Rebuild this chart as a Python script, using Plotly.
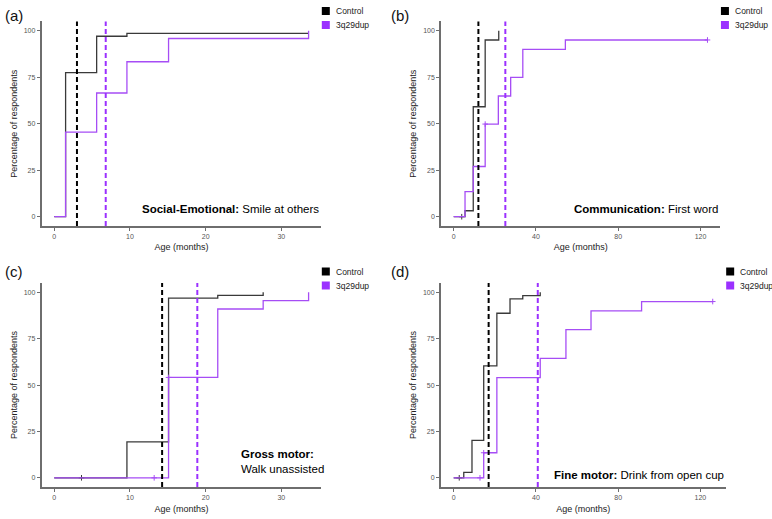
import plotly.graph_objects as go

# ---------------- data ----------------
groups = ["Control", "3q29dup"]

# (a) Social-Emotional: Smile at others
a_ctrl_x = [0, 1.5, 5.6, 9.6, 33.6]
a_ctrl_y = [0, 77.5, 97.0, 98.5, 98.5]
a_dup_x = [0, 1.5, 5.6, 9.6, 15.1, 33.6]
a_dup_y = [0, 45.5, 66.5, 83.3, 95.8, 100]
a_ctrl_cens_x, a_ctrl_cens_y = [], []
a_dup_cens_x, a_dup_cens_y = [], []
a_medians = [3.0, 6.8]

# (b) Communication: First word
b_ctrl_x = [0, 5.5, 9.5, 15.3, 21.9]
b_ctrl_y = [0, 3.2, 59.1, 95.0, 100]
b_dup_x = [0, 5.5, 9.5, 15.3, 21.7, 27.7, 33.6, 54.3, 123.4]
b_dup_y = [0, 13.5, 27.0, 49.8, 64.9, 74.9, 90.0, 95.0, 95.0]
b_ctrl_cens_x, b_ctrl_cens_y = [3.9], [0]
b_dup_cens_x, b_dup_cens_y = [15.3, 123.4], [49.8, 95.0]
b_medians = [12.0, 25.1]

# (c) Gross motor: Walk unassisted
c_ctrl_x = [0, 9.6, 15.1, 21.6, 27.6]
c_ctrl_y = [0, 19.4, 96.8, 98.3, 100]
c_dup_x = [0, 15.1, 21.6, 27.6, 33.6]
c_dup_y = [0, 54.1, 91.0, 95.5, 100]
c_ctrl_cens_x, c_ctrl_cens_y = [3.6], [0]
c_dup_cens_x, c_dup_cens_y = [13.2, 15.1], [0, 54.1]
c_medians = [14.25, 18.9]

# (d) Fine motor: Drink from open cup
d_ctrl_x = [0, 4.9, 8.9, 14.6, 21.0, 27.4, 33.6, 42.1]
d_ctrl_y = [0, 2.9, 20.2, 60.3, 88.7, 96.4, 98.2, 100]
d_dup_x = [0, 14.6, 21.0, 42.1, 54.6, 66.8, 91.4, 126.0]
d_dup_y = [0, 13.5, 54.0, 64.4, 79.9, 90.0, 95.0, 95.0]
d_ctrl_cens_x, d_ctrl_cens_y = [2.7], [0]
d_dup_cens_x, d_dup_cens_y = [12.8, 14.6, 126.0], [0, 13.5, 95.0]
d_medians = [17.0, 40.9]

panel_letters = ["(a)", "(b)", "(c)", "(d)"]
titles_bold = ["Social-Emotional:", "Communication:", "Gross motor:", "Fine motor:"]
titles_rest = ["Smile at others", "First word", "Walk unassisted", "Drink from open cup"]
x_ticks_short = [0, 10, 20, 30]
x_ticks_long = [0, 40, 80, 120]
y_ticks = [0, 25, 50, 75, 100]

# ---------------- style ----------------
FONT = "Liberation Sans, Arial, Helvetica, sans-serif"
LINE_COL = {"Control": "#3a3a3a", "3q29dup": "#a64df5"}
DASH_COL = {"Control": "#000000", "3q29dup": "#9b30ff"}
KEY_COL = {"Control": "#000000", "3q29dup": "#9b30ff"}
AX_COL = "#6e6e6e"

panels = [
    dict(ctrl=(a_ctrl_x, a_ctrl_y), dup=(a_dup_x, a_dup_y),
         cc=(a_ctrl_cens_x, a_ctrl_cens_y), dc=(a_dup_cens_x, a_dup_cens_y),
         med=a_medians, xr=[-1.68, 35.28], ticks=x_ticks_short,
         dx=[0.0538, 0.4162], dy=[0.5645, 0.9588]),
    dict(ctrl=(b_ctrl_x, b_ctrl_y), dup=(b_dup_x, b_dup_y),
         cc=(b_ctrl_cens_x, b_ctrl_cens_y), dc=(b_dup_cens_x, b_dup_cens_y),
         med=b_medians, xr=[-6.2, 129.7], ticks=x_ticks_long,
         dx=[0.5712, 0.9332], dy=[0.5645, 0.9588]),
    dict(ctrl=(c_ctrl_x, c_ctrl_y), dup=(c_dup_x, c_dup_y),
         cc=(c_ctrl_cens_x, c_ctrl_cens_y), dc=(c_dup_cens_x, c_dup_cens_y),
         med=c_medians, xr=[-1.68, 35.28], ticks=x_ticks_short,
         dx=[0.0538, 0.4162], dy=[0.0615, 0.4547]),
    dict(ctrl=(d_ctrl_x, d_ctrl_y), dup=(d_dup_x, d_dup_y),
         cc=(d_ctrl_cens_x, d_ctrl_cens_y), dc=(d_dup_cens_x, d_dup_cens_y),
         med=d_medians, xr=[-6.3, 132.3], ticks=x_ticks_long,
         dx=[0.5709, 0.9400], dy=[0.0615, 0.4547]),
]

W, H = 772, 519
fig = go.Figure()
shapes = []
annotations = []

for i, p in enumerate(panels):
    n = "" if i == 0 else str(i + 1)
    xa, ya = "x" + n, "y" + n
    # step curves (control first, dup on top)
    for g, (xs, ys), (cx, cy) in [("Control", p["ctrl"], p["cc"]), ("3q29dup", p["dup"], p["dc"])]:
        fig.add_trace(go.Scatter(x=xs, y=ys, mode="lines", line=dict(shape="hv", color=LINE_COL[g], width=1.3),
                                 showlegend=False, xaxis=xa, yaxis=ya, hoverinfo="skip"))
        if cx:
            fig.add_trace(go.Scatter(x=cx, y=cy, mode="markers",
                                     marker=dict(symbol="cross-thin", size=4, line=dict(color=LINE_COL[g], width=1)),
                                     showlegend=False, xaxis=xa, yaxis=ya, hoverinfo="skip"))
    # median dashed lines
    for g, m in zip(groups, p["med"]):
        shapes.append(dict(type="line", xref=xa, yref=ya + " domain", x0=m, x1=m, y0=0, y1=1,
                           line=dict(color=DASH_COL[g], width=2, dash="5px,3px")))
    lay = dict(domain=p["dx"], range=p["xr"], tickvals=p["ticks"], showline=True, linecolor=AX_COL, linewidth=1.5,
               ticks="outside", ticklen=3, tickcolor=AX_COL, tickwidth=1, showgrid=False, zeroline=False,
               tickfont=dict(size=7, color="#555555", family=FONT),
               title=dict(text="Age (months)", font=dict(size=9, color="#222", family=FONT), standoff=5),
               anchor=ya, fixedrange=True)
    fig.update_layout(**{"xaxis" + n: lay})
    lay_y = dict(domain=p["dy"], range=[-5, 105], tickvals=y_ticks, showline=True, linecolor=AX_COL, linewidth=1.5,
                 ticks="outside", ticklen=3, tickcolor=AX_COL, tickwidth=1, showgrid=False, zeroline=False,
                 tickfont=dict(size=7, color="#555555", family=FONT),
                 title=dict(text="Percentage of respondents", font=dict(size=9, color="#222", family=FONT), standoff=5),
                 anchor=xa, fixedrange=True)
    fig.update_layout(**{"yaxis" + n: lay_y})

    # panel letter
    left_px = 3 if i % 2 == 0 else 389
    top_px = 15 if i < 2 else 271
    annotations.append(dict(text=panel_letters[i], xref="paper", yref="paper", x=left_px / W, y=1 - top_px / H,
                            xanchor="left", yanchor="middle", showarrow=False,
                            font=dict(size=15, color="#111", family=FONT)))
    # legend keys
    kx = p["dx"][1] * W + 0.5
    ky0 = 11 if i < 2 else 271.5
    for j, g in enumerate(groups):
        cy_px = ky0 + 14 * j
        shapes.append(dict(type="rect", xref="paper", yref="paper", x0=kx / W, x1=(kx + 8) / W,
                           y0=1 - (cy_px + 4) / H, y1=1 - (cy_px - 4) / H,
                           fillcolor=KEY_COL[g], line=dict(width=0)))
        annotations.append(dict(text=g, xref="paper", yref="paper", x=(kx + 12) / W, y=1 - cy_px / H,
                                xanchor="left", yanchor="middle", showarrow=False,
                                font=dict(size=8.5, color="#222", family=FONT)))

# panel headline annotations (inside plots, bottom-right)
annotations.append(dict(text="<b>" + titles_bold[0] + "</b> " + titles_rest[0], xref="x domain", yref="y domain",
                        x=1, y=0.085, xanchor="right", yanchor="middle", showarrow=False,
                        font=dict(size=11.5, color="#000", family=FONT)))
annotations.append(dict(text="<b>" + titles_bold[1] + "</b> " + titles_rest[1], xref="x2 domain", yref="y2 domain",
                        x=1, y=0.085, xanchor="right", yanchor="middle", showarrow=False,
                        font=dict(size=11.5, color="#000", family=FONT)))
annotations.append(dict(text="<b>" + titles_bold[2] + "</b><br>" + titles_rest[2], xref="x3 domain", yref="y3 domain",
                        x=0.705, y=0.125, xanchor="left", yanchor="middle", align="left", showarrow=False,
                        font=dict(size=11.5, color="#000", family=FONT)))
annotations.append(dict(text="<b>" + titles_bold[3] + "</b> " + titles_rest[3], xref="x4 domain", yref="y4 domain",
                        x=1, y=0.06, xanchor="right", yanchor="middle", showarrow=False,
                        font=dict(size=11.5, color="#000", family=FONT)))

fig.update_layout(width=W, height=H, margin=dict(l=0, r=0, t=0, b=0), plot_bgcolor="white",
                  paper_bgcolor="white", showlegend=False, shapes=shapes, annotations=annotations,
                  font=dict(family=FONT))
fig.write_html("out.html", config={"displayModeBar": False},
               post_script="document.body.style.margin='0';document.body.style.overflow='hidden';")
